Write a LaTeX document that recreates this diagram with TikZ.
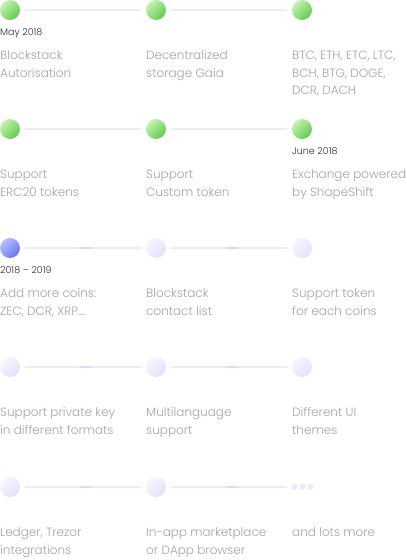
\documentclass[tikz,border=0pt]{standalone}
\usepackage{fontspec}
\setmainfont{Poppins Light}
\definecolor{txt}{HTML}{A4A4AE}
\definecolor{datec}{HTML}{2E2E3A}
\definecolor{linec}{HTML}{ECEBFA}
\definecolor{lensc}{HTML}{DDDBF8}
\definecolor{gL}{HTML}{C8F1B4}
\definecolor{gD}{HTML}{5FCC4C}
\definecolor{bL}{HTML}{B8C0FF}
\definecolor{bD}{HTML}{6675F5}
\definecolor{pL}{HTML}{F7F6FF}
\definecolor{pD}{HTML}{E3E1FB}
\definecolor{dotc}{HTML}{EAE8FC}
\tikzset{
  dotbase/.style={circle, minimum size=20pt, inner sep=0pt, outer sep=0pt},
  gdot/.style={dotbase, top color=gL, bottom color=gD, shading angle=45},
  bdot/.style={dotbase, top color=bL, bottom color=bD, shading angle=45},
  pdot/.style={dotbase, top color=pL, bottom color=pD, shading angle=45},
  conn/.style={draw=linec, line width=1.6pt},
  lbl/.style={anchor=base west, inner sep=0pt, align=left, text=txt,
    font=\fontsize{12}{17.5}\selectfont},
  datel/.style={anchor=base west, inner sep=0pt, text=datec,
    font=\fontsize{9.5}{10}\selectfont},
  smalldot/.style={circle, fill=dotc, minimum size=6pt, inner sep=0pt}
}
\newcommand{\lens}[2]{%
  \fill[lensc] (#1-10,#2) .. controls (#1-4,#2-1.8) and (#1+1,#2-1.6) .. (#1+6,#2)
     .. controls (#1+1,#2+1.6) and (#1-4,#2+1.8) .. (#1-10,#2) -- cycle;}
\begin{document}
\begin{tikzpicture}[x=1pt,y=-1pt]
\useasboundingbox[fill=white] (0,0) rectangle (407,560);
% row 1
\node[gdot] (a1) at (10,10) {};
\node[gdot] (a2) at (156,10) {};
\node[gdot] (a3) at (302,10) {};
\draw[conn] ([xshift=5pt]a1.east) -- ([xshift=-5pt]a2.west);
\draw[conn] ([xshift=5pt]a2.east) -- ([xshift=-5pt]a3.west);
\node[datel] (d1) at (0,35.5) {May 2018};
\node[lbl] (t11) at (0,77) {Blockstack\\Autorisation};
\node[lbl] (t12) at (146,77) {Decentralized\\storage Gaia};
\node[lbl] (t13) at (292,94.5) {BTC, ETH, ETC, LTC,\\BCH, BTG, DOGE,\\DCR, DACH};
% row 2
\node[gdot] (b1) at (10,129) {};
\node[gdot] (b2) at (156,129) {};
\node[gdot] (b3) at (302,129) {};
\draw[conn] ([xshift=5pt]b1.east) -- ([xshift=-5pt]b2.west);
\draw[conn] ([xshift=5pt]b2.east) -- ([xshift=-5pt]b3.west);
\node[datel] (d2) at (292,154.5) {June 2018};
\node[lbl] (t21) at (0,196) {Support\\ERC20 tokens};
\node[lbl] (t22) at (146,196) {Support\\Custom token};
\node[lbl] (t23) at (292,196) {Exchange powered\\by ShapeShift};
% row 3
\node[bdot] (c1) at (10,248) {};
\node[pdot] (c2) at (156,248) {};
\node[pdot] (c3) at (302,248) {};
\draw[conn] ([xshift=5pt]c1.east) -- ([xshift=-5pt]c2.west);
\draw[conn] ([xshift=5pt]c2.east) -- ([xshift=-5pt]c3.west);
\lens{88}{248}\lens{234}{248}
\node[datel] (d3) at (0,273.5) {2018 – 2019};
\node[lbl] (t31) at (0,315) {Add more coins:\\ZEC, DCR, XRP...};
\node[lbl] (t32) at (146,315) {Blockstack\\contact list};
\node[lbl] (t33) at (292,315) {Support token\\for each coins};
% row 4
\node[pdot] (e1) at (10,367) {};
\node[pdot] (e2) at (156,367) {};
\node[pdot] (e3) at (302,367) {};
\draw[conn] ([xshift=5pt]e1.east) -- ([xshift=-5pt]e2.west);
\draw[conn] ([xshift=5pt]e2.east) -- ([xshift=-5pt]e3.west);
\lens{88}{367}\lens{234}{367}
\node[lbl] (t41) at (0,434) {Support private key\\in different formats};
\node[lbl] (t42) at (146,434) {Multilanguage\\support};
\node[lbl] (t43) at (292,434) {Different UI\\themes};
% row 5
\node[pdot] (f1) at (10,487) {};
\node[pdot] (f2) at (156,487) {};
\node[smalldot] (s1) at (294.5,487) {};
\node[smalldot] (s2) at (302.5,487) {};
\node[smalldot] (s3) at (310.5,487) {};
\draw[conn] ([xshift=5pt]f1.east) -- ([xshift=-5pt]f2.west);
\draw[conn] ([xshift=5pt]f2.east) -- ([xshift=-4pt]s1.west);
\lens{88}{487}\lens{234}{487}
\node[lbl] (t51) at (0,554) {Ledger, Trezor\\integrations};
\node[lbl] (t52) at (146,554) {In-app marketplace\\or DApp browser};
\node[lbl] (t53) at (292,536.5) {and lots more};
\end{tikzpicture}
\end{document}
